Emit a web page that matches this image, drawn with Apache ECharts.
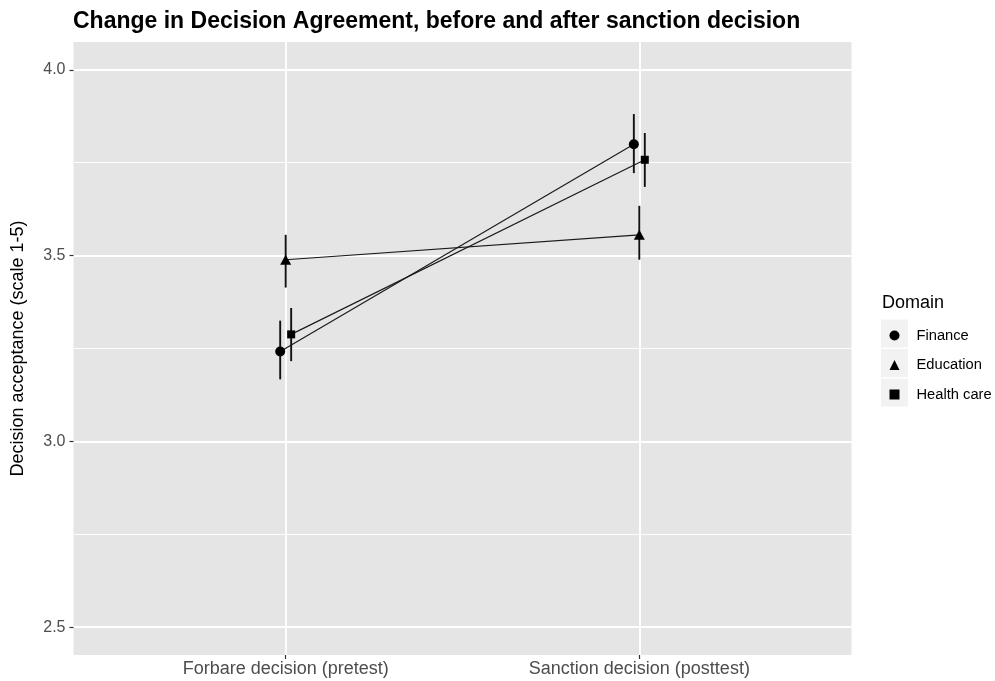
<!DOCTYPE html>
<html><head><meta charset="utf-8">
<script src="https://cdn.jsdelivr.net/npm/echarts@6/dist/echarts.min.js"></script>
<style>html,body{margin:0;padding:0;background:#fff}#c{width:995px;height:681px}</style>
</head><body><div id="c"></div>
<script>
// ---- data ----
const categories = ['Forbare decision (pretest)', 'Sanction decision (posttest)'];
const categoryPos = [1, 2];
const domains = ['Finance', 'Education', 'Health care'];
const financeMean = [3.242, 3.800];
const financeLow = [3.167, 3.722];
const financeHigh = [3.325, 3.881];
const educationMean = [3.489, 3.556];
const educationLow = [3.414, 3.489];
const educationHigh = [3.556, 3.634];
const healthMean = [3.288, 3.758];
const healthLow = [3.216, 3.685];
const healthHigh = [3.359, 3.830];
const yTicks = [2.5, 3.0, 3.5, 4.0];
const yMinorTicks = [2.75, 3.25, 3.75];
const titleText = 'Change in Decision Agreement, before and after sanction decision';
const yTitle = 'Decision acceptance (scale 1-5)';
const legendTitle = 'Domain';

// ---- styling ----
const FONT = 'Liberation Sans, Arial, sans-serif';
const dodge = [-0.0155, 0, 0.0155];
const symbols = ['circle', 'triangle', 'rect'];
const symbolSizes = [10, [11, 10], 8];
const means = [financeMean, educationMean, healthMean];
const lows = [financeLow, educationLow, healthLow];
const highs = [financeHigh, educationHigh, healthHigh];

const chart = echarts.init(document.getElementById('c'), null, {renderer: 'canvas'});

const series = [];
// gridlines
series.push({
  type: 'line', name: '_grid', data: [], z: 0, silent: true,
  markLine: {
    z: 0, zlevel: 0,
    silent: true, animation: false, symbol: ['none', 'none'], label: {show: false},
    lineStyle: {color: '#ffffff', type: 'solid', width: 1.8},
    data: [
      ...yTicks.map(v => ({yAxis: v, lineStyle: {width: 1.8, color: '#fff', type: 'solid'}})),
      ...yMinorTicks.map(v => ({yAxis: v, lineStyle: {width: 0.9, color: '#fff', type: 'solid'}})),
      ...categoryPos.map(v => ({xAxis: v, lineStyle: {width: 1.8, color: '#fff', type: 'solid'}}))
    ]
  }
});
domains.forEach((d, k) => {
  series.push({
    type: 'custom', name: d + ' CI', z: 6, silent: true,
    data: categoryPos.map((p, i) => [p + dodge[k], lows[k][i], highs[k][i]]),
    renderItem: (params, api) => {
      const a = api.coord([api.value(0), api.value(1)]);
      const b = api.coord([api.value(0), api.value(2)]);
      return {type: 'line', shape: {x1: a[0], y1: a[1], x2: b[0], y2: b[1]},
        style: {stroke: '#111', lineWidth: 1.9}};
    }
  });
  series.push({
    type: 'line', name: d, z: 7, animation: false,
    data: categoryPos.map((p, i) => [p + dodge[k], means[k][i]]),
    symbol: symbols[k], symbolSize: symbolSizes[k], showSymbol: true,
    itemStyle: {color: '#000'},
    lineStyle: {color: '#1a1a1a', width: 1.15}
  });
});

chart.setOption({
  animation: false,
  backgroundColor: '#ffffff',
  textStyle: {fontFamily: FONT},
  title: [
    {text: titleText, left: 73, top: 10, padding: 0,
     textStyle: {fontFamily: FONT, fontWeight: 'bold', fontSize: 23, color: '#000'}},
    {text: legendTitle, left: 882, top: 294, padding: 0,
     textStyle: {fontFamily: FONT, fontWeight: 'normal', fontSize: 18, color: '#000'}}
  ],
  grid: {left: 73.5, right: 143.5, top: 42, bottom: 26, show: true,
         backgroundColor: '#E5E5E5', borderWidth: 0, containLabel: false},
  xAxis: {
    type: 'value', min: 0.4, max: 2.6,
    axisLine: {show: false},
    axisTick: {show: true, length: 4, lineStyle: {color: '#333', width: 1.2}, customValues: categoryPos},
    axisLabel: {customValues: categoryPos, formatter: v => categories[Math.round(v) - 1] || '',
      fontSize: 18, color: '#4D4D4D', margin: 5, fontFamily: FONT},
    splitLine: {show: false}
  },
  yAxis: {
    type: 'value', min: 2.425, max: 4.075,
    name: yTitle, nameLocation: 'middle', nameGap: 46,
    nameTextStyle: {fontSize: 18, color: '#000', fontFamily: FONT},
    axisLine: {show: false},
    axisTick: {show: true, length: 4, lineStyle: {color: '#333', width: 1.2}, customValues: yTicks},
    axisLabel: {customValues: yTicks, formatter: v => v.toFixed(1),
      fontSize: 16, color: '#4D4D4D', margin: 8, fontFamily: FONT},
    splitLine: {show: false}
  },
  legend: {
    orient: 'vertical', left: 889.5, top: 328, padding: 0,
    itemWidth: 10, itemHeight: 10, itemGap: 14.5,
    data: domains.map((d, k) => ({name: d, icon: symbols[k]})),
    itemStyle: {color: '#000'},
    textStyle: {fontSize: 14.7, color: '#000', fontFamily: FONT, lineHeight: 15, padding: [0, 0, 0, 12]},
    selectedMode: false
  },
  graphic: [0, 1, 2].map(i => ({
    type: 'rect', z: -1, silent: true,
    shape: {x: 880.5, y: 319 + i * 29.5, width: 28, height: 29},
    style: {fill: '#F2F2F2', stroke: '#ffffff', lineWidth: 1}
  })),
  series: series
});
</script></body></html>
